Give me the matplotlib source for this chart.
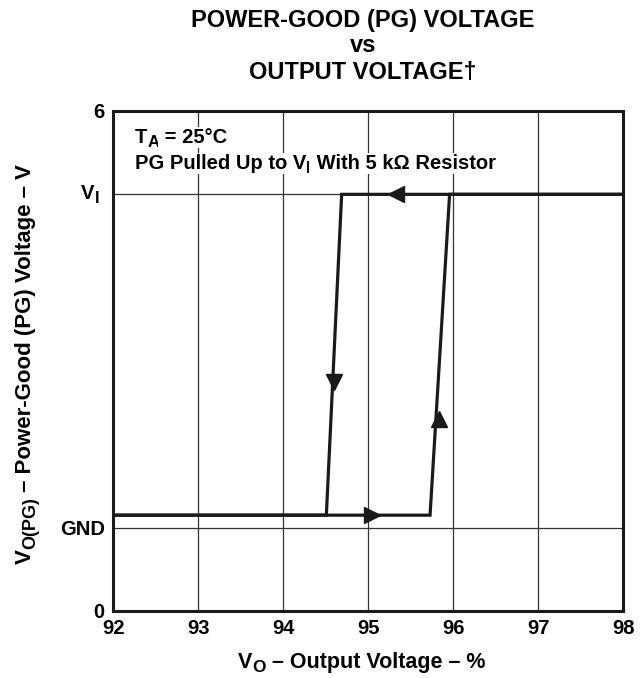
import numpy as np
import matplotlib
matplotlib.use("Agg")
import matplotlib.pyplot as plt

plt.rcParams['font.family'] = ['Liberation Sans', 'DejaVu Sans']
plt.rcParams['font.weight'] = 'bold'

# hysteresis loop (x in %, y on 0..6 scale, GND=1, VI=5)
rise_x = [92, 95.73, 95.96, 98]
rise_y = [1.15, 1.15, 5, 5]
fall_x = [98, 94.69, 94.51, 92]
fall_y = [5, 5, 1.15, 1.15]

# arrow heads
arr_x = [95.33, 95.05, 94.6, 95.84]
arr_y = [5, 1.15, 2.75, 2.3]
arr_m = ['<', '>', 'v', '^']

xticks = [92, 93, 94, 95, 96, 97, 98]
yticks = [0, 1, 5, 6]
ylabels = ['0', 'GND', '', '6']

W, H = 642, 678
fig = plt.figure(figsize=(W/100, H/100), dpi=100)
ax = fig.add_axes([113/W, 1-611/H, 510/W, 500/H])

ax.plot(rise_x, rise_y, color='#1a1a1a', lw=2.3, zorder=3, solid_joinstyle='miter')
ax.plot(fall_x, fall_y, color='#1a1a1a', lw=2.3, zorder=3, solid_joinstyle='miter')
for x, y, m in zip(arr_x, arr_y, arr_m):
    ax.plot(x, y, marker=m, ms=12, color='#1a1a1a', mec='#1a1a1a', zorder=4)

ax.set_xlim(92, 98)
ax.set_ylim(0, 6)
ax.set_xticks(xticks)
ax.set_xticklabels([str(t) for t in xticks], fontsize=14.5, fontweight='bold')
ax.set_yticks(yticks)
ax.set_yticklabels(ylabels, fontsize=14.5, fontweight='bold')
ax.tick_params(length=0, pad=6)
ax.grid(True, color='#333333', lw=0.9)
for s in ax.spines.values():
    s.set_linewidth(2.2)
    s.set_color('#1a1a1a')

renderer = fig.canvas.get_renderer()


def rich(px, py, parts, rot=0, center=False, bg=False):
    # parts: (text, fontsize, baseline drop in px); px, py in pixels from top-left
    widths = []
    for s, fs, d in parts:
        t = fig.text(0, 0, s, fontsize=fs, fontweight='bold')
        widths.append(t.get_window_extent(renderer).width)
        t.remove()
    pos = -sum(widths) / 2 if center else 0
    for (s, fs, d), w in zip(parts, widths):
        if rot == 0:
            x, y = px + pos, py + d
        else:
            x, y = px + d, py - pos
        kw = dict(bbox=dict(facecolor='white', edgecolor='none', pad=1)) if bg else {}
        fig.text(x / W, 1 - y / H, s, fontsize=fs, fontweight='bold', rotation=rot,
                 rotation_mode='anchor', ha='left', va='baseline', zorder=5, **kw)
        pos += w


rich(135, 143, [('T', 14.5, 0), ('A', 12, 4), (' = 25°C', 14.5, 0)], bg=True)
rich(135, 169, [('PG Pulled Up to V', 14.5, 0), ('I', 12, 4),
                (' With 5 kΩ Resistor', 14.5, 0)], bg=True)
rich(81, 199, [('V', 14.5, 0), ('I', 11.5, 4)])

rich(362, 668, [('V', 15.5, 0), ('O', 12.5, 4), (' – Output Voltage – %', 15.5, 0)], center=True)
rich(31, 364, [('V', 16, 0), ('O(PG)', 13, 4),
               (' – Power-Good (PG) Voltage – V', 16, 0)], rot=90, center=True)

tx = 363 / W
fig.text(tx, 1-20/H, 'POWER-GOOD (PG) VOLTAGE', ha='center', va='center',
         fontsize=17, fontweight='bold')
fig.text(tx, 1-46/H, 'vs', ha='center', va='center', fontsize=17, fontweight='bold')
fig.text(tx, 1-72/H, 'OUTPUT VOLTAGE†', ha='center', va='center',
         fontsize=17, fontweight='bold')

fig.savefig('out.png', dpi=100)
